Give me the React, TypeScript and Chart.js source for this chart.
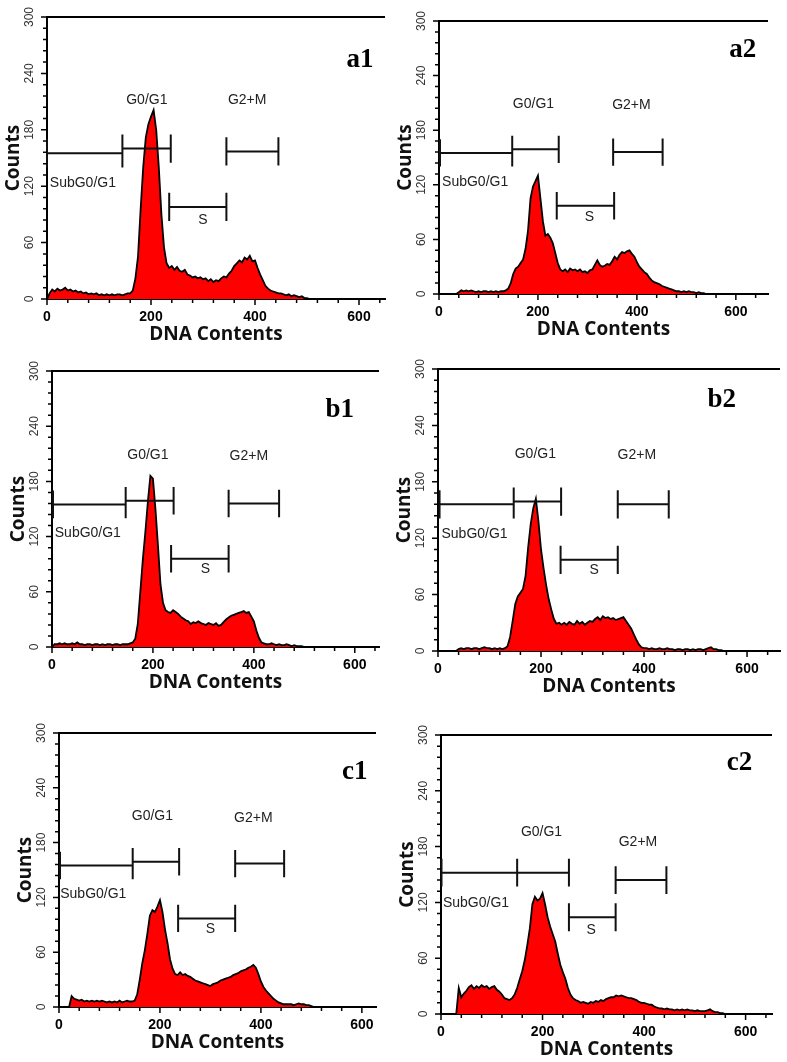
import React, { useEffect, useRef } from "react";
import { Chart, registerables } from "chart.js";

Chart.register(...registerables);

// DNA content channels (bins)
const DNA_CHANNELS = [
  0, 5, 10, 15, 20, 25, 30, 35, 40, 45,
  50, 55, 60, 65, 70, 75, 80, 85, 90, 95,
  100, 105, 110, 115, 120, 125, 130, 135, 140, 145,
  150, 155, 160, 165, 170, 175, 180, 185, 190, 195,
  200, 205, 210, 215, 220, 225, 230, 235, 240, 245,
  250, 255, 260, 265, 270, 275, 280, 285, 290, 295,
  300, 305, 310, 315, 320, 325, 330, 335, 340, 345,
  350, 355, 360, 365, 370, 375, 380, 385, 390, 395,
  400, 405, 410, 415, 420, 425, 430, 435, 440, 445,
  450, 455, 460, 465, 470, 475, 480, 485, 490, 495,
  500, 505, 510, 515, 520, 525, 530, 535, 540, 545,
  550, 555, 560,
];

const countsA1 = [
  0, 6, 10, 8, 11, 9, 10, 12, 9, 10,
  8, 9, 7, 8, 6, 7, 5, 6, 5, 6,
  4, 5, 4, 5, 4, 5, 4, 5, 5, 4,
  5, 6, 6, 9, 22, 45, 95, 140, 172, 186,
  194, 201, 180, 140, 90, 55, 38, 33, 35, 31,
  34, 30, 29, 31, 26, 25, 23, 24, 22, 23,
  21, 22, 19, 21, 18, 20, 19, 22, 24, 23,
  27, 30, 35, 38, 41, 39, 44, 42, 46, 40,
  41, 33, 26, 20, 14, 11, 9, 8, 7, 6,
  6, 5, 4, 5, 3, 4, 3, 2, 3, 1,
  1, 0, 0, 0, 0, 0, 0, 0, 0, 0,
  0, 0, 0,
];

const countsA2 = [
  0, 0, 0, 0, 0, 0, 0, 0, 2, 4,
  3, 4, 3, 4, 3, 2, 3, 2, 3, 3,
  2, 3, 2, 3, 2, 3, 3, 4, 6, 12,
  22, 28, 30, 34, 38, 50, 70, 105, 118, 124,
  130, 105, 80, 64, 66, 62, 56, 45, 34, 27,
  25, 27, 24, 28, 26, 27, 25, 27, 24, 25,
  23, 26, 27, 32, 37, 32, 30, 31, 33, 32,
  36, 41, 38, 43, 46, 45, 47, 48, 44, 41,
  35, 30, 27, 24, 22, 18, 15, 13, 12, 11,
  9, 8, 7, 6, 5, 4, 3, 3, 2, 3,
  2, 3, 2, 2, 1, 2, 1, 1, 0, 0,
  0, 0, 0,
];

const countsB1 = [
  0, 3, 3, 4, 3, 4, 3, 3, 4, 3,
  5, 3, 3, 2, 3, 3, 2, 3, 3, 2,
  3, 2, 3, 3, 2, 3, 3, 2, 3, 3,
  3, 4, 5, 9, 25, 60, 95, 125, 158, 186,
  183, 150, 110, 68, 48, 40, 38, 37, 40, 38,
  36, 33, 31, 29, 28, 25, 27, 26, 28, 26,
  25, 24, 26, 25, 24, 26, 23, 24, 27, 30,
  32, 34, 35, 36, 37, 38, 39, 37, 38, 33,
  28, 18, 10, 5, 4, 3, 3, 4, 3, 2,
  3, 2, 2, 3, 2, 1, 2, 1, 1, 1,
  0, 0, 0, 0, 0, 0, 0, 0, 0, 0,
  0, 0, 0,
];

const countsB2 = [
  0, 0, 0, 0, 0, 0, 0, 0, 2, 3,
  2, 3, 3, 2, 3, 3, 2, 3, 4, 3,
  3, 2, 3, 2, 3, 2, 3, 5, 15, 32,
  50, 58, 62, 66, 80, 110, 135, 152, 162, 138,
  108, 88, 70, 55, 44, 34, 29, 30, 28, 30,
  28, 31, 29, 28, 32, 29, 31, 28, 30, 32,
  31, 34, 36, 33, 37, 35, 36, 34, 35, 33,
  34, 35, 36, 32, 28, 24, 18, 12, 7, 4,
  3, 3, 2, 3, 2, 2, 3, 2, 2, 3,
  2, 2, 1, 2, 2, 1, 2, 2, 1, 2,
  1, 2, 2, 1, 2, 3, 4, 2, 2, 1,
  1, 0, 0,
];

const countsC1 = [
  0, 0, 0, 0, 0, 12, 9, 8, 7, 8,
  6, 7, 6, 7, 6, 7, 6, 7, 6, 5,
  6, 5, 6, 5, 7, 5, 6, 7, 6, 6,
  7, 14, 30, 48, 62, 80, 100, 106, 104, 110,
  117, 104, 85, 70, 52, 42, 36, 35, 38, 35,
  36, 34, 33, 31, 29, 28, 27, 26, 25, 24,
  23, 25, 26, 27, 29, 30, 31, 32, 33, 35,
  36, 37, 39, 40, 41, 43, 44, 46, 43, 36,
  28, 22, 18, 15, 12, 9, 7, 5, 4, 3,
  3, 3, 3, 2, 3, 4, 3, 3, 2, 2,
  1, 0, 0, 0, 0, 0, 0, 0, 0, 0,
  0, 0, 0,
];

const countsC2 = [
  0, 0, 0, 0, 0, 0, 0, 28, 18, 22,
  25, 29, 31, 27, 30, 28, 31, 29, 30, 27,
  29, 30, 26, 24, 21, 17, 16, 15, 17, 21,
  28, 37, 46, 58, 74, 92, 118, 126, 122, 124,
  130, 118, 104, 94, 86, 78, 65, 53, 45, 38,
  28, 21, 17, 15, 14, 12, 13, 12, 11, 13,
  12, 14, 13, 15, 14, 16, 17, 18, 18, 20,
  19, 20, 19, 18, 17, 17, 16, 15, 13, 12,
  12, 11, 10, 10, 8, 7, 6, 6, 5, 6,
  5, 5, 4, 5, 4, 5, 4, 5, 4, 4,
  3, 4, 3, 3, 3, 4, 5, 3, 2, 2,
  1, 1, 0,
];

// axis ticks
const X_TICKS = [0, 40, 80, 120, 160, 200, 240, 280, 320, 360, 400, 440, 480, 520, 560, 600, 640];
const X_LABELED = [0, 200, 400, 600];
const Y_TICKS = [
  0, 12, 24, 36, 48, 60, 72, 84, 96, 108, 120, 132, 144, 156, 168, 180,
  192, 204, 216, 228, 240, 252, 264, 276, 288, 300,
];
const Y_LABELED = [0, 60, 120, 180, 240, 300];

// gate names and gate ranges [start, end, level] in data units
const GATE_NAMES = ["SubG0/G1", "G0/G1", "S", "G2+M"];

const gatesA1 = [[0, 145, 155], [145, 238, 160], [235, 345, 98], [345, 445, 157]];
const gateLabelPosA1 = [[69, 123], [192, 212], [300, 84], [385, 212]];
const gatesA2 = [[2, 148, 155], [148, 242, 159], [238, 354, 97], [352, 452, 156]];
const gateLabelPosA2 = [[73, 123], [191, 209], [304, 84], [389, 207]];
const gatesB1 = [[2, 146, 155], [146, 241, 159], [236, 350, 96], [350, 450, 156]];
const gateLabelPosB1 = [[71, 124], [190, 209], [304, 85], [390, 207]];
const gatesB2 = [[3, 147, 156], [147, 239, 159], [238, 349, 97], [349, 448, 156]];
const gateLabelPosB2 = [[71, 124], [189, 209], [303, 86], [386, 208]];
const gatesC1 = [[2, 146, 155], [146, 238, 159], [236, 349, 97], [349, 446, 157]];
const gateLabelPosC1 = [[68, 124], [185, 209], [300, 85], [385, 207]];
const gatesC2 = [[1, 150, 152], [150, 252, 152], [252, 344, 104], [344, 444, 144]];
const gateLabelPosC2 = [[69, 119], [198, 196], [296, 90], [388, 185]];

const PANEL_NAMES = ["a1", "a2", "b1", "b2", "c1", "c2"];
const namePos = [[602, 254], [614, 268], [570, 258], [551, 267], [586, 257], [588, 270]];
const xMaxes = [650, 665, 648, 664, 628, 652];

// layout (page pixels of each plot area)
const BOXES = [
  { left: 47, top: 17, right: 385, bottom: 299 },
  { left: 439, top: 21, right: 768, bottom: 294 },
  { left: 52, top: 371, right: 379, bottom: 647 },
  { left: 438, top: 369, right: 780, bottom: 651 },
  { left: 59, top: 733, right: 376, bottom: 1007 },
  { left: 441, top: 735, right: 772, bottom: 1014 },
];

const COUNTS = [countsA1, countsA2, countsB1, countsB2, countsC1, countsC2];
const GATES = [gatesA1, gatesA2, gatesB1, gatesB2, gatesC1, gatesC2];
const GATE_LABEL_POS = [gateLabelPosA1, gateLabelPosA2, gateLabelPosB1, gateLabelPosB2, gateLabelPosC1, gateLabelPosC2];

const Y_AXIS_W = 45;
const X_AXIS_H = 47;
const PAD_TOP = 20;
const PAD_RIGHT = 8;
const GATE_CAP = 15;

const SANS = '"Liberation Sans", Arial, sans-serif';

function makePlugin(idx: number) {
  const xMax = xMaxes[idx];
  return {
    id: "flowMarks" + idx,
    afterDatasetsDraw(chart: any) {
      const { ctx, scales } = chart;
      const x = scales.x;
      const y = scales.y;
      ctx.save();
      ctx.strokeStyle = "#111";
      ctx.lineWidth = 2;
      ctx.beginPath();
      GATES[idx].forEach((g) => {
        const x1 = x.getPixelForValue(g[0]);
        const x2 = x.getPixelForValue(g[1]);
        const py = y.getPixelForValue(g[2]);
        const cTop = y.getPixelForValue(g[2] + GATE_CAP);
        const cBot = y.getPixelForValue(g[2] - GATE_CAP);
        ctx.moveTo(x1, py);
        ctx.lineTo(x2, py);
        ctx.moveTo(x1, cTop);
        ctx.lineTo(x1, cBot);
        ctx.moveTo(x2, cTop);
        ctx.lineTo(x2, cBot);
      });
      ctx.stroke();

      ctx.fillStyle = "#222";
      ctx.font = `14px ${SANS}`;
      ctx.textAlign = "center";
      ctx.textBaseline = "middle";
      GATE_LABEL_POS[idx].forEach((pos, i) => {
        ctx.fillText(GATE_NAMES[i], x.getPixelForValue(pos[0]), y.getPixelForValue(pos[1]));
      });

      ctx.fillStyle = "#000";
      ctx.font = 'bold 27px "Liberation Serif", "Times New Roman", serif';
      ctx.fillText(PANEL_NAMES[idx], x.getPixelForValue(namePos[idx][0]), y.getPixelForValue(namePos[idx][1]));
      ctx.restore();
    },
    afterDraw(chart: any) {
      const { ctx, chartArea: a, scales } = chart;
      const x = scales.x;
      const y = scales.y;
      ctx.save();
      ctx.strokeStyle = "#000";
      ctx.lineWidth = 1.5;
      ctx.beginPath();
      X_TICKS.filter((v) => v <= xMax).forEach((v) => {
        const px = x.getPixelForValue(v);
        const len = X_LABELED.includes(v) ? 6 : 4;
        ctx.moveTo(px, a.bottom);
        ctx.lineTo(px, a.bottom + len);
      });
      Y_TICKS.forEach((v) => {
        const py = y.getPixelForValue(v);
        const len = Y_LABELED.includes(v) ? 6 : 4;
        ctx.moveTo(a.left - len, py);
        ctx.lineTo(a.left, py);
      });
      ctx.stroke();
      ctx.lineWidth = 2;
      ctx.beginPath();
      const top = y.getPixelForValue(300);
      ctx.moveTo(a.left, top);
      ctx.lineTo(a.right, top);
      ctx.stroke();
      ctx.restore();
    },
  };
}

function HistogramPanel({ idx }: { idx: number }) {
  const ref = useRef<HTMLCanvasElement>(null);
  const box = BOXES[idx];
  const w = box.right - box.left + Y_AXIS_W + PAD_RIGHT;
  const h = box.bottom - box.top + PAD_TOP + X_AXIS_H;

  useEffect(() => {
    const xMax = xMaxes[idx];
    const chart = new Chart(ref.current as HTMLCanvasElement, {
      type: "line",
      data: {
        datasets: [
          {
            data: DNA_CHANNELS.map((v, i) => ({ x: v, y: COUNTS[idx][i] })),
            fill: "origin",
            backgroundColor: "#ff0000",
            borderColor: "#000",
            borderWidth: 1.8,
            pointRadius: 0,
            tension: 0,
          },
        ],
      },
      options: {
        responsive: false,
        animation: false,
        devicePixelRatio: 1,
        events: [],
        layout: { padding: { top: PAD_TOP, right: PAD_RIGHT, left: 0, bottom: 0 } },
        plugins: { legend: { display: false }, tooltip: { enabled: false } },
        scales: {
          x: {
            type: "linear",
            min: 0,
            max: xMax,
            afterBuildTicks: (s: any) => {
              s.ticks = X_TICKS.filter((v) => v <= xMax).map((v) => ({ value: v }));
            },
            afterFit: (s: any) => {
              s.height = X_AXIS_H;
            },
            grid: { display: false, drawTicks: true, tickLength: 6 },
            border: { display: true, color: "#000", width: 2 },
            ticks: {
              autoSkip: false,
              maxRotation: 0,
              minRotation: 0,
              padding: 4,
              color: "#000",
              font: { family: SANS, size: 14, weight: "bold" },
              callback: (v: any) => (X_LABELED.includes(Number(v)) ? String(v) : ""),
            },
            title: {
              display: true,
              text: "DNA Contents",
              color: "#111",
              font: { family: '"Open Sans", sans-serif', size: 19, weight: "bold" },
              padding: { top: 0, bottom: 0 },
            },
          },
          y: {
            type: "linear",
            min: 0,
            max: 300,
            afterBuildTicks: (s: any) => {
              s.ticks = Y_TICKS.map((v) => ({ value: v }));
            },
            afterFit: (s: any) => {
              s.width = Y_AXIS_W;
            },
            grid: { display: false, drawTicks: true, tickLength: 6 },
            border: { display: true, color: "#000", width: 2 },
            ticks: {
              autoSkip: false,
              minRotation: 90,
              maxRotation: 90,
              crossAlign: "center",
              padding: 1,
              color: "#333",
              font: { family: SANS, size: 12 },
              callback: (v: any) => (Y_LABELED.includes(Number(v)) ? String(v) : ""),
            },
            title: {
              display: true,
              text: "Counts",
              color: "#111",
              font: { family: '"Open Sans", sans-serif', size: 19, weight: "bold" },
              padding: { top: 0, bottom: 0 },
            },
          },
        },
      } as any,
      plugins: [makePlugin(idx)],
    });
    return () => chart.destroy();
  }, [idx]);

  return (
    <canvas
      ref={ref}
      width={w}
      height={h}
      style={{
        position: "absolute",
        left: box.left - Y_AXIS_W,
        top: box.top - PAD_TOP,
        width: w,
        height: h,
      }}
    />
  );
}

export default function App() {
  return (
    <div
      style={{
        position: "absolute",
        left: 0,
        top: 0,
        width: 787,
        height: 1062,
        background: "#fff",
        overflow: "hidden",
      }}
    >
      {PANEL_NAMES.map((n, i) => (
        <HistogramPanel key={n} idx={i} />
      ))}
    </div>
  );
}
